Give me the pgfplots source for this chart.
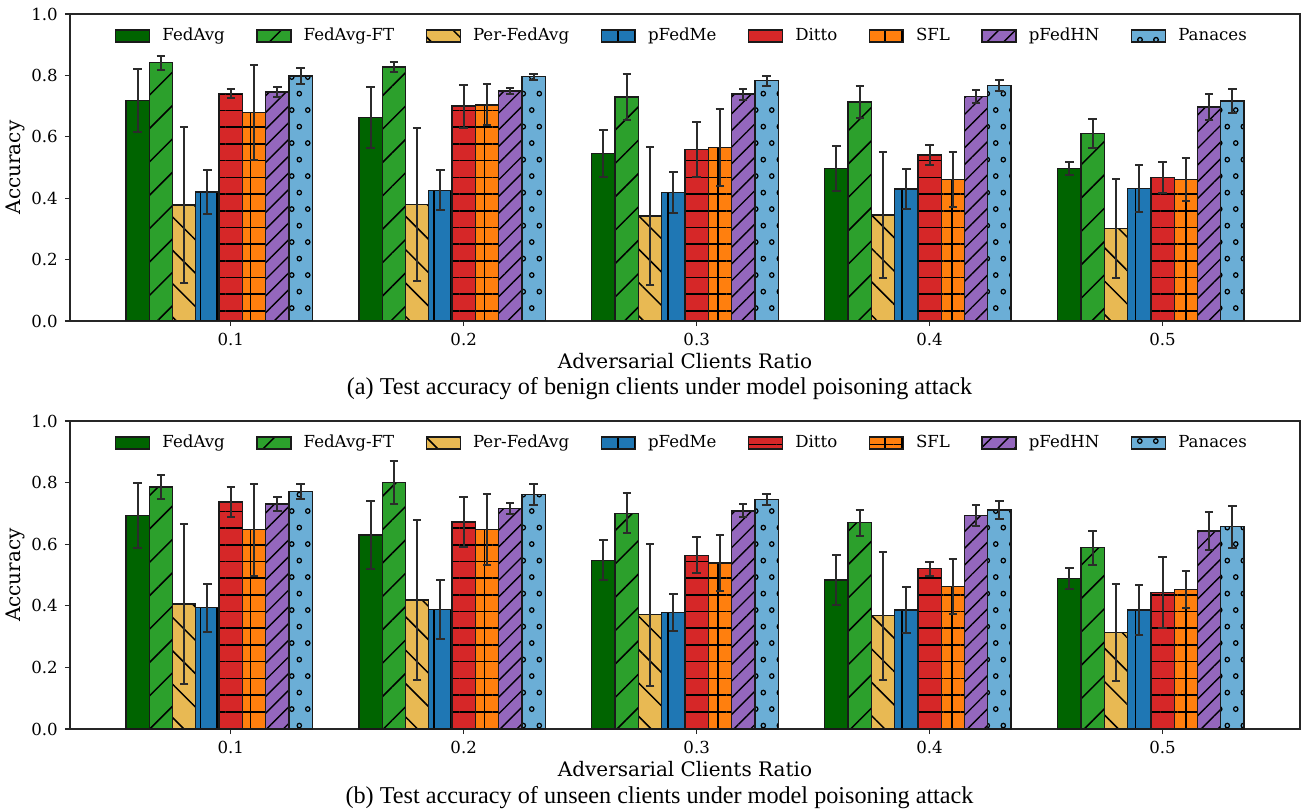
\documentclass[border=0pt]{standalone}
\usepackage{fontspec}
\setmainfont{DejaVu Serif}
\newfontfamily\capfont{Liberation Serif}
\usepackage{pgfplots}
\pgfplotsset{compat=1.18}
\usetikzlibrary{patterns.meta}

\definecolor{c1}{HTML}{006400}
\definecolor{c2}{HTML}{2CA02C}
\definecolor{c3}{HTML}{E8B953}
\definecolor{c4}{HTML}{1F77B4}
\definecolor{c5}{HTML}{D62728}
\definecolor{c6}{HTML}{FF7F0E}
\definecolor{c7}{HTML}{9467BD}
\definecolor{c8}{HTML}{6BAED6}
\definecolor{edge}{HTML}{1A1A1A}
\definecolor{errc}{HTML}{2B2B2B}

\pgfdeclarepattern{
  name=ocircles,
  type=uncolored,
  bottom left={\pgfpoint{0pt}{0pt}},
  top right={\pgfpoint{8pt}{16.7pt}},
  tile size={\pgfpoint{8pt}{16.7pt}},
  code={
    \pgfsetlinewidth{0.65pt}
    \pgfpathcircle{\pgfpoint{2pt}{2pt}}{1.15pt}
    \pgfpathcircle{\pgfpoint{6pt}{10.35pt}}{1.15pt}
    \pgfusepath{stroke}
  }
}

\pgfplotsset{
  B/.style={ybar, bar width=0.01, bar shift=0pt, draw=edge, line width=0.65pt,
    legend image code/.code={\draw[##1] (0pt,-3pt) rectangle (17pt,3pt); \path (21pt,0pt);},
    error bars/y dir=both, error bars/y explicit,
    error bars/error bar style={line width=1pt, draw=errc},
    error bars/error mark options={rotate=90, line width=1pt, mark size=2.1pt, draw=errc}},
  s1/.style={B, fill=c1},
  s2/.style={B, fill=c2, postaction={pattern={Lines[angle=45,distance=11.8pt,line width=0.75pt]}, pattern color=black}},
  s3/.style={B, fill=c3, postaction={pattern={Lines[angle=-45,distance=11.8pt,line width=0.75pt]}, pattern color=black}},
  s4/.style={B, fill=c4, postaction={pattern={Lines[angle=90,distance=8.35pt,line width=0.8pt]}, pattern color=black}},
  s5/.style={B, fill=c5, postaction={pattern={Lines[angle=0,distance=8.35pt,line width=0.8pt]}, pattern color=black}},
  s6/.style={B, fill=c6, postaction={pattern={Hatch[angle=0,distance=8.35pt,line width=0.8pt]}, pattern color=black}},
  s7/.style={B, fill=c7, postaction={pattern={Lines[angle=45,distance=5.9pt,line width=0.7pt]}, pattern color=black}},
  s8/.style={B, fill=c8, postaction={pattern=ocircles, pattern color=black}},
  myaxis/.style={
    scale only axis, width=615pt,
    ybar, ymin=0, ymax=1, xmin=0.031, xmax=0.559,
    xtick={0.1,0.2,0.3,0.4,0.5}, xticklabels={0.1,0.2,0.3,0.4,0.5},
    ytick={0,0.2,0.4,0.6,0.8,1.0}, yticklabels={0.0,0.2,0.4,0.6,0.8,1.0},
    tick align=outside, tick pos=left, major tick length=2.6pt,
    tick style={black!85, line width=0.6pt},
    axis line style={black!85, line width=0.6pt},
    ticklabel style={font=\fontsize{8.3}{10}\selectfont},
    /pgf/number format/assume math mode=true,
    xlabel={Adversarial Clients Ratio}, ylabel={Accuracy},
    label style={font=\fontsize{9.7}{11}\selectfont},
    every axis x label/.style={at={(axis description cs:0.5,0)}, anchor=center, yshift=-20pt},
    every axis y label/.style={at={(axis description cs:0,0.5)}, xshift=-27.5pt, rotate=90, anchor=center},
    legend columns=8,
    legend style={at={(0.5,1)}, anchor=center, yshift=-11pt, xshift=-1pt, draw=none, fill=none,
      font=\fontsize{8.3}{10}\selectfont,
      /tikz/every even column/.append style={column sep=13.75pt}},
  },
}

\begin{document}
\begin{tikzpicture}
\useasboundingbox (0,0) rectangle (655.5pt,-406pt);

\begin{axis}[myaxis, height=153.5pt, at={(35pt,-7pt)}, anchor=north west]
\addplot[s1] coordinates {(0.06,0.718) +- (0,0.103) (0.16,0.663) +- (0,0.100) (0.26,0.546) +- (0,0.077) (0.36,0.497) +- (0,0.073) (0.46,0.496) +- (0,0.021)};
\addplot[s2] coordinates {(0.07,0.841) +- (0,0.022) (0.17,0.827) +- (0,0.017) (0.27,0.730) +- (0,0.074) (0.37,0.713) +- (0,0.052) (0.47,0.611) +- (0,0.047)};
\addplot[s3] coordinates {(0.08,0.378) +- (0,0.254) (0.18,0.379) +- (0,0.249) (0.28,0.342) +- (0,0.224) (0.38,0.345) +- (0,0.206) (0.48,0.301) +- (0,0.162)};
\addplot[s4] coordinates {(0.09,0.420) +- (0,0.072) (0.19,0.426) +- (0,0.065) (0.29,0.419) +- (0,0.066) (0.39,0.430) +- (0,0.065) (0.49,0.431) +- (0,0.076)};
\addplot[s5] coordinates {(0.10,0.742) +- (0,0.014) (0.20,0.700) +- (0,0.070) (0.30,0.559) +- (0,0.089) (0.40,0.541) +- (0,0.032) (0.50,0.468) +- (0,0.051)};
\addplot[s6] coordinates {(0.11,0.680) +- (0,0.154) (0.21,0.704) +- (0,0.067) (0.31,0.566) +- (0,0.125) (0.41,0.462) +- (0,0.090) (0.51,0.462) +- (0,0.070)};
\addplot[s7] coordinates {(0.12,0.746) +- (0,0.017) (0.22,0.749) +- (0,0.010) (0.32,0.739) +- (0,0.018) (0.42,0.732) +- (0,0.021) (0.52,0.697) +- (0,0.043)};
\addplot[s8] coordinates {(0.13,0.798) +- (0,0.025) (0.23,0.796) +- (0,0.010) (0.33,0.783) +- (0,0.016) (0.43,0.768) +- (0,0.018) (0.53,0.717) +- (0,0.039)};
\legend{FedAvg,FedAvg-FT,Per-FedAvg,pFedMe,Ditto,SFL,pFedHN,Panaces}
\end{axis}

\begin{axis}[myaxis, height=154pt, at={(35pt,-210.5pt)}, anchor=north west]
\addplot[s1] coordinates {(0.06,0.694) +- (0,0.106) (0.16,0.630) +- (0,0.110) (0.26,0.548) +- (0,0.065) (0.36,0.484) +- (0,0.080) (0.46,0.489) +- (0,0.034)};
\addplot[s2] coordinates {(0.07,0.786) +- (0,0.040) (0.17,0.800) +- (0,0.071) (0.27,0.700) +- (0,0.065) (0.37,0.670) +- (0,0.042) (0.47,0.589) +- (0,0.055)};
\addplot[s3] coordinates {(0.08,0.406) +- (0,0.260) (0.18,0.419) +- (0,0.260) (0.28,0.371) +- (0,0.230) (0.38,0.368) +- (0,0.208) (0.48,0.314) +- (0,0.157)};
\addplot[s4] coordinates {(0.09,0.394) +- (0,0.078) (0.19,0.389) +- (0,0.096) (0.29,0.378) +- (0,0.059) (0.39,0.386) +- (0,0.075) (0.49,0.386) +- (0,0.082)};
\addplot[s5] coordinates {(0.10,0.737) +- (0,0.048) (0.20,0.672) +- (0,0.082) (0.30,0.564) +- (0,0.058) (0.40,0.520) +- (0,0.023) (0.50,0.443) +- (0,0.115)};
\addplot[s6] coordinates {(0.11,0.647) +- (0,0.150) (0.21,0.648) +- (0,0.114) (0.31,0.539) +- (0,0.090) (0.41,0.462) +- (0,0.090) (0.51,0.452) +- (0,0.060)};
\addplot[s7] coordinates {(0.12,0.731) +- (0,0.023) (0.22,0.716) +- (0,0.019) (0.32,0.708) +- (0,0.021) (0.42,0.694) +- (0,0.034) (0.52,0.643) +- (0,0.063)};
\addplot[s8] coordinates {(0.13,0.772) +- (0,0.024) (0.23,0.761) +- (0,0.035) (0.33,0.745) +- (0,0.017) (0.43,0.711) +- (0,0.030) (0.53,0.657) +- (0,0.068)};
\legend{FedAvg,FedAvg-FT,Per-FedAvg,pFedMe,Ditto,SFL,pFedHN,Panaces}
\end{axis}

\node[font=\capfont\fontsize{12.1}{14}\selectfont, anchor=center] at (329.75pt,-194.5pt) {(a) Test accuracy of benign clients under model poisoning attack};
\node[font=\capfont\fontsize{12.1}{14}\selectfont, anchor=center] at (329.75pt,-399pt) {(b) Test accuracy of unseen clients under model poisoning attack};
\end{tikzpicture}
\end{document}
